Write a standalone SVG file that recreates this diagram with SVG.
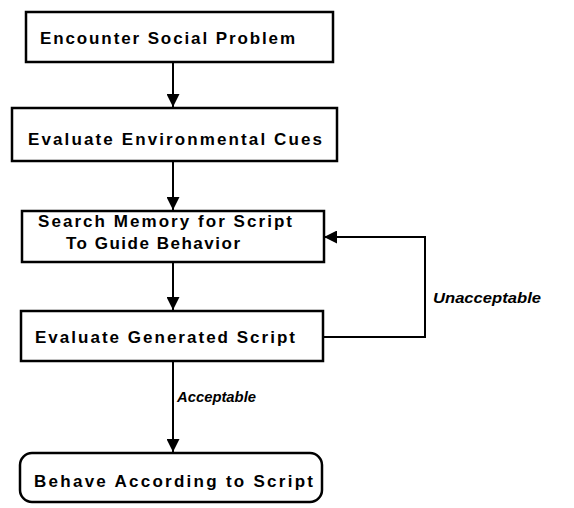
<svg xmlns="http://www.w3.org/2000/svg" width="574" height="508" viewBox="0 0 574 508">
<style>
.box{fill:#fff;stroke:#000;stroke-width:2.5}
.lbl{font-family:"Liberation Sans",Arial,sans-serif;font-weight:bold;font-size:17px;fill:#000}
.it{font-family:"Liberation Sans",Arial,sans-serif;font-weight:bold;font-style:italic;font-size:15px;fill:#000}
.con{fill:none;stroke:#000;stroke-width:2}
</style>
<defs>
<marker id="ah" viewBox="0 0 14 14" refX="14" refY="7" markerWidth="14" markerHeight="13" markerUnits="userSpaceOnUse" orient="auto">
<path d="M0,0 L14,7 L0,14 Z" fill="#000"/>
</marker>
</defs>
<g id="connectors">
<line class="con" x1="173" y1="62" x2="173" y2="107" marker-end="url(#ah)"/>
<line class="con" x1="173" y1="161" x2="173" y2="210" marker-end="url(#ah)"/>
<line class="con" x1="173" y1="262" x2="173" y2="310" marker-end="url(#ah)"/>
<line class="con" x1="173" y1="361" x2="173" y2="452" marker-end="url(#ah)"/>
<polyline class="con" points="323,337 425,337 425,237 324,237" marker-end="url(#ah)"/>
<text class="it" x="177" y="402" textLength="79" lengthAdjust="spacingAndGlyphs">Acceptable</text>
<text class="it" x="433" y="303" textLength="108" lengthAdjust="spacingAndGlyphs">Unacceptable</text>
</g>
<g id="n1">
<rect class="box" x="26" y="12" width="307" height="50"/>
<text class="lbl" x="40" y="44" textLength="255" lengthAdjust="spacing">Encounter Social Problem</text>
</g>
<g id="n2">
<rect class="box" x="12" y="108" width="325" height="53"/>
<text class="lbl" x="28" y="145" textLength="294" lengthAdjust="spacing">Evaluate Environmental Cues</text>
</g>
<g id="n3">
<rect class="box" x="22" y="211" width="302" height="51"/>
<text class="lbl" x="38" y="227" textLength="254" lengthAdjust="spacing">Search Memory for Script</text>
<text class="lbl" x="66" y="249" textLength="174" lengthAdjust="spacing">To Guide Behavior</text>
</g>
<g id="n4">
<rect class="box" x="21" y="311" width="302" height="50"/>
<text class="lbl" x="35" y="343" textLength="260" lengthAdjust="spacing">Evaluate Generated Script</text>
</g>
<g id="n5">
<rect class="box" x="20" y="453" width="302" height="49" rx="12" ry="12"/>
<text class="lbl" x="34" y="487" textLength="279" lengthAdjust="spacing">Behave According to Script</text>
</g>
</svg>
